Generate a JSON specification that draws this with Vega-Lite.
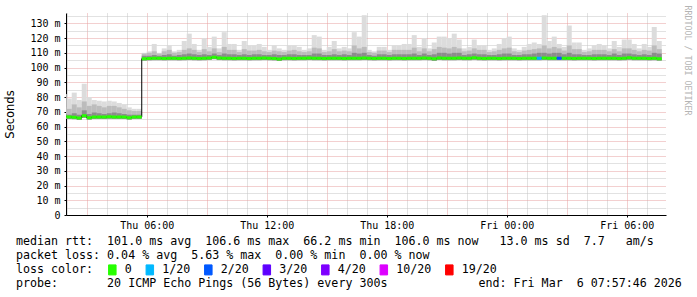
{
  "$schema": "https://vega.github.io/schema/vega-lite/v6.json",
  "autosize": "none",
  "width": 600,
  "height": 202,
  "padding": {"left": 66, "top": 13, "right": 31, "bottom": 82},
  "background": "white",
  "config": {"view": {"stroke": null}, "font": "DejaVu Sans Mono"},
  "title": {
    "text": [
      "median rtt:\u00a0\u00a0101.0 ms avg\u00a0\u00a0106.6 ms max\u00a0\u00a066.2 ms min\u00a0\u00a0106.0 ms now\u00a0\u00a0\u00a013.0 ms sd\u00a0\u00a07.7\u00a0\u00a0\u00a0am/s",
      "packet loss: 0.04 % avg\u00a0\u00a05.63 % max\u00a0\u00a00.00 % min\u00a0\u00a00.00 % now"
    ],
    "subtitle": "probe:\u00a0\u00a0\u00a0\u00a0\u00a0\u00a0\u00a020 ICMP Echo Pings (56 Bytes) every 300s\u00a0\u00a0\u00a0\u00a0\u00a0\u00a0\u00a0\u00a0\u00a0\u00a0\u00a0\u00a0\u00a0end: Fri Mar\u00a0\u00a06 07:57:46 2026",
    "orient": "bottom",
    "anchor": "start",
    "frame": "group",
    "dx": -50,
    "offset": -41,
    "font": "DejaVu Sans Mono",
    "fontSize": 11.65,
    "fontWeight": "normal",
    "color": "black",
    "lineHeight": 14,
    "baseline": "top",
    "subtitleFont": "DejaVu Sans Mono",
    "subtitleFontSize": 11.65,
    "subtitleFontWeight": "normal",
    "subtitleColor": "black",
    "subtitlePadding": 16
  },
  "data": {"values": [
    {"t":"2026-03-05T01:45","t2":"2026-03-05T02:00","lo":65.5,"med":66.8,"p1":68.5,"p2":73,"hi":82,"loss":"0"},
    {"t":"2026-03-05T02:00","t2":"2026-03-05T02:15","lo":65.2,"med":66.5,"p1":68,"p2":72,"hi":79,"loss":"0"},
    {"t":"2026-03-05T02:15","t2":"2026-03-05T02:30","lo":65.0,"med":66.3,"p1":69,"p2":75,"hi":83,"loss":"0"},
    {"t":"2026-03-05T02:30","t2":"2026-03-05T02:45","lo":64.5,"med":65.8,"p1":68,"p2":73,"hi":78,"loss":"0"},
    {"t":"2026-03-05T02:45","t2":"2026-03-05T03:00","lo":66.0,"med":67.3,"p1":71,"p2":77,"hi":89,"loss":"0"},
    {"t":"2026-03-05T03:00","t2":"2026-03-05T03:15","lo":64.7,"med":66.0,"p1":68.5,"p2":74,"hi":80,"loss":"0"},
    {"t":"2026-03-05T03:15","t2":"2026-03-05T03:30","lo":65.2,"med":66.5,"p1":69.5,"p2":75,"hi":78,"loss":"0"},
    {"t":"2026-03-05T03:30","t2":"2026-03-05T03:45","lo":65.2,"med":66.5,"p1":69,"p2":74,"hi":77.5,"loss":"0"},
    {"t":"2026-03-05T03:45","t2":"2026-03-05T04:00","lo":65.1,"med":66.4,"p1":68.5,"p2":73,"hi":77,"loss":"0"},
    {"t":"2026-03-05T04:00","t2":"2026-03-05T04:15","lo":65.3,"med":66.6,"p1":69,"p2":74,"hi":77.5,"loss":"0"},
    {"t":"2026-03-05T04:15","t2":"2026-03-05T04:30","lo":65.2,"med":66.5,"p1":69.5,"p2":74,"hi":77,"loss":"0"},
    {"t":"2026-03-05T04:30","t2":"2026-03-05T04:45","lo":65.2,"med":66.5,"p1":69,"p2":73,"hi":76,"loss":"0"},
    {"t":"2026-03-05T04:45","t2":"2026-03-05T05:00","lo":65.1,"med":66.4,"p1":68.5,"p2":72,"hi":75,"loss":"0"},
    {"t":"2026-03-05T05:00","t2":"2026-03-05T05:15","lo":64.7,"med":66.0,"p1":68,"p2":71,"hi":73,"loss":"0"},
    {"t":"2026-03-05T05:15","t2":"2026-03-05T05:30","lo":65.2,"med":66.5,"p1":68,"p2":70.5,"hi":72,"loss":"0"},
    {"t":"2026-03-05T05:30","t2":"2026-03-05T05:45","lo":65.2,"med":66.5,"p1":68,"p2":70.5,"hi":72,"loss":"0"},
    {"t":"2026-03-05T05:45","t2":"2026-03-05T06:00","lo":104.7,"med":106.0,"p1":108,"p2":109.5,"hi":110,"loss":"0"},
    {"t":"2026-03-05T06:00","t2":"2026-03-05T06:15","lo":104.9,"med":106.2,"p1":108,"p2":110,"hi":111,"loss":"0"},
    {"t":"2026-03-05T06:15","t2":"2026-03-05T06:30","lo":105.0,"med":106.3,"p1":108.5,"p2":111,"hi":116,"loss":"0"},
    {"t":"2026-03-05T06:30","t2":"2026-03-05T06:45","lo":105.0,"med":106.3,"p1":108,"p2":109.5,"hi":110,"loss":"0"},
    {"t":"2026-03-05T06:45","t2":"2026-03-05T07:00","lo":104.9,"med":106.2,"p1":108.5,"p2":111,"hi":113,"loss":"0"},
    {"t":"2026-03-05T07:00","t2":"2026-03-05T07:15","lo":105.0,"med":106.3,"p1":109,"p2":112,"hi":115,"loss":"0"},
    {"t":"2026-03-05T07:15","t2":"2026-03-05T07:30","lo":105.0,"med":106.3,"p1":108,"p2":110,"hi":111,"loss":"0"},
    {"t":"2026-03-05T07:30","t2":"2026-03-05T07:45","lo":104.9,"med":106.2,"p1":108.5,"p2":110.5,"hi":112,"loss":"0"},
    {"t":"2026-03-05T07:45","t2":"2026-03-05T08:00","lo":105.0,"med":106.3,"p1":109,"p2":112,"hi":118,"loss":"0"},
    {"t":"2026-03-05T08:00","t2":"2026-03-05T08:15","lo":105.1,"med":106.4,"p1":109.5,"p2":113,"hi":123,"loss":"0"},
    {"t":"2026-03-05T08:15","t2":"2026-03-05T08:30","lo":105.0,"med":106.3,"p1":109,"p2":112,"hi":116,"loss":"0"},
    {"t":"2026-03-05T08:30","t2":"2026-03-05T08:45","lo":104.9,"med":106.2,"p1":108.5,"p2":110.5,"hi":112,"loss":"0"},
    {"t":"2026-03-05T08:45","t2":"2026-03-05T09:00","lo":105.0,"med":106.3,"p1":109,"p2":112.5,"hi":120,"loss":"0"},
    {"t":"2026-03-05T09:00","t2":"2026-03-05T09:15","lo":105.2,"med":106.5,"p1":108.5,"p2":111,"hi":114,"loss":"0"},
    {"t":"2026-03-05T09:15","t2":"2026-03-05T09:30","lo":105.7,"med":107.0,"p1":109.5,"p2":113,"hi":121,"loss":"0"},
    {"t":"2026-03-05T09:30","t2":"2026-03-05T09:45","lo":105.1,"med":106.4,"p1":108.5,"p2":110.5,"hi":113,"loss":"0"},
    {"t":"2026-03-05T09:45","t2":"2026-03-05T10:00","lo":105.0,"med":106.3,"p1":109.5,"p2":114,"hi":124,"loss":"0"},
    {"t":"2026-03-05T10:00","t2":"2026-03-05T10:15","lo":105.0,"med":106.3,"p1":109,"p2":112,"hi":116,"loss":"0"},
    {"t":"2026-03-05T10:15","t2":"2026-03-05T10:30","lo":104.9,"med":106.2,"p1":109,"p2":112,"hi":116,"loss":"0"},
    {"t":"2026-03-05T10:30","t2":"2026-03-05T10:45","lo":105.0,"med":106.3,"p1":108.5,"p2":110.5,"hi":112,"loss":"0"},
    {"t":"2026-03-05T10:45","t2":"2026-03-05T11:00","lo":105.0,"med":106.3,"p1":109,"p2":112.5,"hi":118,"loss":"0"},
    {"t":"2026-03-05T11:00","t2":"2026-03-05T11:15","lo":104.9,"med":106.2,"p1":108.5,"p2":111.5,"hi":115,"loss":"0"},
    {"t":"2026-03-05T11:15","t2":"2026-03-05T11:30","lo":105.0,"med":106.3,"p1":109,"p2":111.5,"hi":115,"loss":"0"},
    {"t":"2026-03-05T11:30","t2":"2026-03-05T11:45","lo":105.0,"med":106.3,"p1":109,"p2":112,"hi":116,"loss":"0"},
    {"t":"2026-03-05T11:45","t2":"2026-03-05T12:00","lo":105.1,"med":106.4,"p1":108.5,"p2":111,"hi":114,"loss":"0"},
    {"t":"2026-03-05T12:00","t2":"2026-03-05T12:15","lo":105.0,"med":106.3,"p1":108.5,"p2":110.5,"hi":112,"loss":"0"},
    {"t":"2026-03-05T12:15","t2":"2026-03-05T12:30","lo":104.9,"med":106.2,"p1":109,"p2":111.5,"hi":115,"loss":"0"},
    {"t":"2026-03-05T12:30","t2":"2026-03-05T12:45","lo":104.5,"med":105.8,"p1":108.5,"p2":111,"hi":113,"loss":"0"},
    {"t":"2026-03-05T12:45","t2":"2026-03-05T13:00","lo":105.0,"med":106.3,"p1":108.5,"p2":110.5,"hi":112,"loss":"0"},
    {"t":"2026-03-05T13:00","t2":"2026-03-05T13:15","lo":105.0,"med":106.3,"p1":109,"p2":111.5,"hi":115,"loss":"0"},
    {"t":"2026-03-05T13:15","t2":"2026-03-05T13:30","lo":104.9,"med":106.2,"p1":109,"p2":112,"hi":115,"loss":"0"},
    {"t":"2026-03-05T13:30","t2":"2026-03-05T13:45","lo":105.0,"med":106.3,"p1":108.5,"p2":111,"hi":114,"loss":"0"},
    {"t":"2026-03-05T13:45","t2":"2026-03-05T14:00","lo":105.0,"med":106.3,"p1":108.5,"p2":110.5,"hi":112,"loss":"0"},
    {"t":"2026-03-05T14:00","t2":"2026-03-05T14:15","lo":105.1,"med":106.4,"p1":108.5,"p2":111,"hi":113,"loss":"0"},
    {"t":"2026-03-05T14:15","t2":"2026-03-05T14:30","lo":105.0,"med":106.3,"p1":109.5,"p2":113.5,"hi":122,"loss":"0"},
    {"t":"2026-03-05T14:30","t2":"2026-03-05T14:45","lo":105.0,"med":106.3,"p1":109.5,"p2":113,"hi":121,"loss":"0"},
    {"t":"2026-03-05T14:45","t2":"2026-03-05T15:00","lo":104.9,"med":106.2,"p1":108.5,"p2":110.5,"hi":112,"loss":"0"},
    {"t":"2026-03-05T15:00","t2":"2026-03-05T15:15","lo":105.0,"med":106.3,"p1":108.5,"p2":111,"hi":114,"loss":"0"},
    {"t":"2026-03-05T15:15","t2":"2026-03-05T15:30","lo":105.0,"med":106.3,"p1":109,"p2":112.5,"hi":118,"loss":"0"},
    {"t":"2026-03-05T15:30","t2":"2026-03-05T15:45","lo":105.0,"med":106.3,"p1":108.5,"p2":111,"hi":113,"loss":"0"},
    {"t":"2026-03-05T15:45","t2":"2026-03-05T16:00","lo":104.9,"med":106.2,"p1":109,"p2":111.5,"hi":114,"loss":"0"},
    {"t":"2026-03-05T16:00","t2":"2026-03-05T16:15","lo":105.0,"med":106.3,"p1":108.5,"p2":111,"hi":113,"loss":"0"},
    {"t":"2026-03-05T16:15","t2":"2026-03-05T16:30","lo":105.0,"med":106.3,"p1":110,"p2":115,"hi":124,"loss":"0"},
    {"t":"2026-03-05T16:30","t2":"2026-03-05T16:45","lo":105.0,"med":106.3,"p1":109.5,"p2":113,"hi":121,"loss":"0"},
    {"t":"2026-03-05T16:45","t2":"2026-03-05T17:00","lo":105.1,"med":106.4,"p1":110,"p2":114,"hi":135.5,"loss":"0"},
    {"t":"2026-03-05T17:00","t2":"2026-03-05T17:15","lo":105.0,"med":106.3,"p1":108.5,"p2":110.5,"hi":112,"loss":"0"},
    {"t":"2026-03-05T17:15","t2":"2026-03-05T17:30","lo":104.9,"med":106.2,"p1":108,"p2":110,"hi":111,"loss":"0"},
    {"t":"2026-03-05T17:30","t2":"2026-03-05T17:45","lo":105.0,"med":106.3,"p1":109,"p2":111.5,"hi":114,"loss":"0"},
    {"t":"2026-03-05T17:45","t2":"2026-03-05T18:00","lo":105.0,"med":106.3,"p1":109,"p2":111.5,"hi":114,"loss":"0"},
    {"t":"2026-03-05T18:00","t2":"2026-03-05T18:15","lo":104.9,"med":106.2,"p1":108.5,"p2":110.5,"hi":112,"loss":"0"},
    {"t":"2026-03-05T18:15","t2":"2026-03-05T18:30","lo":105.0,"med":106.3,"p1":109,"p2":112,"hi":115,"loss":"0"},
    {"t":"2026-03-05T18:30","t2":"2026-03-05T18:45","lo":105.0,"med":106.3,"p1":109,"p2":112,"hi":115,"loss":"0"},
    {"t":"2026-03-05T18:45","t2":"2026-03-05T19:00","lo":104.9,"med":106.2,"p1":109,"p2":112,"hi":116,"loss":"0"},
    {"t":"2026-03-05T19:00","t2":"2026-03-05T19:15","lo":105.0,"med":106.3,"p1":109,"p2":112,"hi":116,"loss":"0"},
    {"t":"2026-03-05T19:15","t2":"2026-03-05T19:30","lo":105.0,"med":106.3,"p1":109.5,"p2":113.5,"hi":122,"loss":"0"},
    {"t":"2026-03-05T19:30","t2":"2026-03-05T19:45","lo":105.0,"med":106.3,"p1":108.5,"p2":111,"hi":114,"loss":"0"},
    {"t":"2026-03-05T19:45","t2":"2026-03-05T20:00","lo":105.1,"med":106.4,"p1":109.5,"p2":113,"hi":120,"loss":"0"},
    {"t":"2026-03-05T20:00","t2":"2026-03-05T20:15","lo":105.0,"med":106.3,"p1":108.5,"p2":111,"hi":113,"loss":"0"},
    {"t":"2026-03-05T20:15","t2":"2026-03-05T20:30","lo":104.6,"med":105.9,"p1":109,"p2":112.5,"hi":117,"loss":"0"},
    {"t":"2026-03-05T20:30","t2":"2026-03-05T20:45","lo":105.2,"med":106.5,"p1":110,"p2":114,"hi":121,"loss":"0"},
    {"t":"2026-03-05T20:45","t2":"2026-03-05T21:00","lo":105.0,"med":106.3,"p1":110,"p2":113.5,"hi":121,"loss":"0"},
    {"t":"2026-03-05T21:00","t2":"2026-03-05T21:15","lo":105.0,"med":106.3,"p1":109.5,"p2":113,"hi":120,"loss":"0"},
    {"t":"2026-03-05T21:15","t2":"2026-03-05T21:30","lo":105.0,"med":106.3,"p1":110,"p2":114,"hi":123,"loss":"0"},
    {"t":"2026-03-05T21:30","t2":"2026-03-05T21:45","lo":105.1,"med":106.4,"p1":110,"p2":113,"hi":119,"loss":"0"},
    {"t":"2026-03-05T21:45","t2":"2026-03-05T22:00","lo":105.0,"med":106.3,"p1":108.5,"p2":111,"hi":113,"loss":"0"},
    {"t":"2026-03-05T22:00","t2":"2026-03-05T22:15","lo":105.0,"med":106.3,"p1":109,"p2":111.5,"hi":114,"loss":"0"},
    {"t":"2026-03-05T22:15","t2":"2026-03-05T22:30","lo":105.3,"med":106.6,"p1":109.5,"p2":113,"hi":119,"loss":"0"},
    {"t":"2026-03-05T22:30","t2":"2026-03-05T22:45","lo":105.0,"med":106.3,"p1":109,"p2":112,"hi":115,"loss":"0"},
    {"t":"2026-03-05T22:45","t2":"2026-03-05T23:00","lo":104.9,"med":106.2,"p1":109,"p2":112,"hi":115,"loss":"0"},
    {"t":"2026-03-05T23:00","t2":"2026-03-05T23:15","lo":105.0,"med":106.3,"p1":108.5,"p2":110.5,"hi":112,"loss":"0"},
    {"t":"2026-03-05T23:15","t2":"2026-03-05T23:30","lo":105.0,"med":106.3,"p1":108.5,"p2":111,"hi":113,"loss":"0"},
    {"t":"2026-03-05T23:30","t2":"2026-03-05T23:45","lo":104.9,"med":106.2,"p1":109,"p2":112,"hi":116,"loss":"0"},
    {"t":"2026-03-05T23:45","t2":"2026-03-06T00:00","lo":105.0,"med":106.3,"p1":109.5,"p2":113,"hi":120,"loss":"0"},
    {"t":"2026-03-06T00:00","t2":"2026-03-06T00:15","lo":105.0,"med":106.3,"p1":109.5,"p2":113.5,"hi":121,"loss":"0"},
    {"t":"2026-03-06T00:15","t2":"2026-03-06T00:30","lo":105.0,"med":106.3,"p1":108.5,"p2":111,"hi":113,"loss":"0"},
    {"t":"2026-03-06T00:30","t2":"2026-03-06T00:45","lo":104.9,"med":106.2,"p1":108.5,"p2":110.5,"hi":112,"loss":"0"},
    {"t":"2026-03-06T00:45","t2":"2026-03-06T01:00","lo":105.0,"med":106.3,"p1":109,"p2":111.5,"hi":114,"loss":"0"},
    {"t":"2026-03-06T01:00","t2":"2026-03-06T01:15","lo":105.0,"med":106.3,"p1":109,"p2":112,"hi":116,"loss":"0"},
    {"t":"2026-03-06T01:15","t2":"2026-03-06T01:30","lo":105.0,"med":106.3,"p1":109.5,"p2":112.5,"hi":117,"loss":"0"},
    {"t":"2026-03-06T01:30","t2":"2026-03-06T01:45","lo":105.0,"med":106.3,"p1":110,"p2":113,"hi":116,"loss":"1/20"},
    {"t":"2026-03-06T01:45","t2":"2026-03-06T02:00","lo":105.1,"med":106.4,"p1":110,"p2":115,"hi":135.5,"loss":"0"},
    {"t":"2026-03-06T02:00","t2":"2026-03-06T02:15","lo":105.0,"med":106.3,"p1":109.5,"p2":113,"hi":118,"loss":"0"},
    {"t":"2026-03-06T02:15","t2":"2026-03-06T02:30","lo":105.0,"med":106.3,"p1":110,"p2":114,"hi":121,"loss":"0"},
    {"t":"2026-03-06T02:30","t2":"2026-03-06T02:45","lo":105.0,"med":106.3,"p1":110,"p2":113,"hi":116,"loss":"2/20"},
    {"t":"2026-03-06T02:45","t2":"2026-03-06T03:00","lo":105.0,"med":106.3,"p1":109,"p2":111.5,"hi":114,"loss":"0"},
    {"t":"2026-03-06T03:00","t2":"2026-03-06T03:15","lo":105.0,"med":106.3,"p1":110,"p2":115,"hi":128.5,"loss":"0"},
    {"t":"2026-03-06T03:15","t2":"2026-03-06T03:30","lo":104.9,"med":106.2,"p1":109,"p2":112.5,"hi":117,"loss":"0"},
    {"t":"2026-03-06T03:30","t2":"2026-03-06T03:45","lo":105.0,"med":106.3,"p1":109,"p2":112.5,"hi":117,"loss":"0"},
    {"t":"2026-03-06T03:45","t2":"2026-03-06T04:00","lo":105.0,"med":106.3,"p1":108.5,"p2":110.5,"hi":112,"loss":"0"},
    {"t":"2026-03-06T04:00","t2":"2026-03-06T04:15","lo":105.0,"med":106.3,"p1":108.5,"p2":111,"hi":113,"loss":"0"},
    {"t":"2026-03-06T04:15","t2":"2026-03-06T04:30","lo":104.9,"med":106.2,"p1":109,"p2":112,"hi":115,"loss":"0"},
    {"t":"2026-03-06T04:30","t2":"2026-03-06T04:45","lo":105.0,"med":106.3,"p1":109,"p2":112,"hi":116,"loss":"0"},
    {"t":"2026-03-06T04:45","t2":"2026-03-06T05:00","lo":105.0,"med":106.3,"p1":109,"p2":112,"hi":115,"loss":"0"},
    {"t":"2026-03-06T05:00","t2":"2026-03-06T05:15","lo":105.0,"med":106.3,"p1":108.5,"p2":111,"hi":113,"loss":"0"},
    {"t":"2026-03-06T05:15","t2":"2026-03-06T05:30","lo":105.0,"med":106.3,"p1":109.5,"p2":112.5,"hi":118,"loss":"0"},
    {"t":"2026-03-06T05:30","t2":"2026-03-06T05:45","lo":104.9,"med":106.2,"p1":108.5,"p2":111,"hi":114,"loss":"0"},
    {"t":"2026-03-06T05:45","t2":"2026-03-06T06:00","lo":105.0,"med":106.3,"p1":109.5,"p2":113,"hi":119,"loss":"0"},
    {"t":"2026-03-06T06:00","t2":"2026-03-06T06:15","lo":105.3,"med":106.6,"p1":109.5,"p2":113,"hi":119,"loss":"0"},
    {"t":"2026-03-06T06:15","t2":"2026-03-06T06:30","lo":105.0,"med":106.3,"p1":109,"p2":112,"hi":116,"loss":"0"},
    {"t":"2026-03-06T06:30","t2":"2026-03-06T06:45","lo":105.0,"med":106.3,"p1":108.5,"p2":111,"hi":113,"loss":"0"},
    {"t":"2026-03-06T06:45","t2":"2026-03-06T07:00","lo":105.0,"med":106.3,"p1":109,"p2":112,"hi":116,"loss":"0"},
    {"t":"2026-03-06T07:00","t2":"2026-03-06T07:15","lo":104.9,"med":106.2,"p1":108.5,"p2":111.5,"hi":114,"loss":"0"},
    {"t":"2026-03-06T07:15","t2":"2026-03-06T07:30","lo":105.0,"med":106.3,"p1":110,"p2":115,"hi":127.5,"loss":"0"},
    {"t":"2026-03-06T07:30","t2":"2026-03-06T07:45","lo":104.7,"med":106.0,"p1":109.5,"p2":112.5,"hi":118,"loss":"0"}
  ]},
  "layer": [
    {
      "mark": {"type": "rect", "color": "#dcdcdc", "clip": true},
      "encoding": {
        "x": {"field": "t", "type": "temporal",
          "scale": {"domain": [{"year": 2026, "month": 3, "date": 5, "hours": 1, "minutes": 57, "seconds": 46}, {"year": 2026, "month": 3, "date": 6, "hours": 7, "minutes": 57, "seconds": 46}], "nice": false},
          "axis": {"orient": "bottom", "values": [
            {"year": 2026, "month": 3, "date": 5, "hours": 2}, {"year": 2026, "month": 3, "date": 5, "hours": 4}, {"year": 2026, "month": 3, "date": 5, "hours": 5},
            {"year": 2026, "month": 3, "date": 5, "hours": 7}, {"year": 2026, "month": 3, "date": 5, "hours": 8}, {"year": 2026, "month": 3, "date": 5, "hours": 10},
            {"year": 2026, "month": 3, "date": 5, "hours": 11}, {"year": 2026, "month": 3, "date": 5, "hours": 13}, {"year": 2026, "month": 3, "date": 5, "hours": 14},
            {"year": 2026, "month": 3, "date": 5, "hours": 16}, {"year": 2026, "month": 3, "date": 5, "hours": 17}, {"year": 2026, "month": 3, "date": 5, "hours": 19},
            {"year": 2026, "month": 3, "date": 5, "hours": 20}, {"year": 2026, "month": 3, "date": 5, "hours": 22}, {"year": 2026, "month": 3, "date": 5, "hours": 23},
            {"year": 2026, "month": 3, "date": 6, "hours": 1}, {"year": 2026, "month": 3, "date": 6, "hours": 2}, {"year": 2026, "month": 3, "date": 6, "hours": 4},
            {"year": 2026, "month": 3, "date": 6, "hours": 5}, {"year": 2026, "month": 3, "date": 6, "hours": 7}],
            "grid": true, "gridColor": "#c4c4c4", "gridDash": [1, 1], "labels": false, "ticks": false, "domain": false, "title": null}},
        "x2": {"field": "t2"},
        "y": {"field": "lo", "type": "quantitative",
          "scale": {"domain": [0, 137], "nice": false, "zero": true},
          "axis": {"orient": "left", "values": [5, 15, 25, 35, 45, 55, 65, 75, 85, 95, 105, 115, 125, 135], "grid": true, "gridColor": "#c4c4c4", "gridDash": [1, 1], "labels": false, "ticks": false, "domain": false, "title": null}},
        "y2": {"field": "hi"}
      }
    },
    {
      "mark": {"type": "rect", "color": "#bcbcbc", "clip": true},
      "encoding": {
        "x": {"field": "t", "type": "temporal",
          "axis": {"orient": "bottom", "values": [
            {"year": 2026, "month": 3, "date": 5, "hours": 3}, {"year": 2026, "month": 3, "date": 5, "hours": 6}, {"year": 2026, "month": 3, "date": 5, "hours": 9},
            {"year": 2026, "month": 3, "date": 5, "hours": 12}, {"year": 2026, "month": 3, "date": 5, "hours": 15}, {"year": 2026, "month": 3, "date": 5, "hours": 18},
            {"year": 2026, "month": 3, "date": 5, "hours": 21}, {"year": 2026, "month": 3, "date": 6, "hours": 0}, {"year": 2026, "month": 3, "date": 6, "hours": 3},
            {"year": 2026, "month": 3, "date": 6, "hours": 6}],
            "grid": true, "gridColor": "#e6a0a0", "gridDash": [1, 1], "labels": false, "ticks": false, "domain": false, "title": null}},
        "x2": {"field": "t2"},
        "y": {"field": "lo", "type": "quantitative",
          "axis": {"orient": "left", "values": [0, 10, 20, 30, 40, 50, 60, 70, 80, 90, 100, 110, 120, 130], "grid": true, "gridColor": "#e6a0a0", "gridDash": [1, 1],
            "labelExpr": "datum.value == 0 ? '0' : datum.value + ' m'", "labelFont": "DejaVu Sans Mono", "labelFontSize": 10, "labelColor": "black", "labelPadding": 4,
            "ticks": true, "tickSize": 2, "tickColor": "black", "domain": true, "domainColor": "black",
            "title": "Seconds", "titleFont": "DejaVu Sans", "titleFontSize": 11.5, "titleFontWeight": "normal", "titleColor": "black", "titleX": -56, "titleY": 101, "titleAngle": 270, "titleAlign": "center", "titleBaseline": "middle"}},
        "y2": {"field": "p2"}
      }
    },
    {
      "mark": {"type": "rect", "color": "#8c8c8c", "clip": true},
      "encoding": {
        "x": {"field": "t", "type": "temporal",
          "axis": {"orient": "bottom", "values": [
            {"year": 2026, "month": 3, "date": 5, "hours": 6}, {"year": 2026, "month": 3, "date": 5, "hours": 12}, {"year": 2026, "month": 3, "date": 5, "hours": 18},
            {"year": 2026, "month": 3, "date": 6, "hours": 0}, {"year": 2026, "month": 3, "date": 6, "hours": 6}],
            "format": "%a %H:%M", "labelFont": "DejaVu Sans Mono", "labelFontSize": 10, "labelColor": "black", "labelFlush": false, "labelPadding": 3, "grid": false, "ticks": true, "tickSize": 2, "tickColor": "black", "domain": true, "domainColor": "black", "title": null}},
        "x2": {"field": "t2"},
        "y": {"field": "lo", "type": "quantitative",
          "axis": {"orient": "right", "labels": false, "ticks": false, "domain": false, "grid": false,
            "title": "RRDTOOL / TOBI OETIKER", "titleFont": "DejaVu Sans Mono", "titleFontSize": 8.3, "titleFontWeight": "normal", "titleColor": "#b4b4b4", "titleAngle": 90, "titleX": 20, "titleY": -8, "titleAlign": "left", "titleBaseline": "middle"}},
        "y2": {"field": "p1"}
      }
    },
    {
      "mark": {"type": "line", "color": "black", "strokeWidth": 1, "interpolate": "step-after", "clip": true},
      "encoding": {
        "x": {"field": "t", "type": "temporal", "axis": null},
        "y": {"field": "med", "type": "quantitative", "axis": null}
      }
    },
    {
      "mark": {"type": "rect", "strokeWidth": 3, "clip": true},
      "encoding": {
        "x": {"field": "t", "type": "temporal", "axis": null},
        "x2": {"field": "t2"},
        "y": {"field": "med", "type": "quantitative", "axis": null},
        "y2": {"field": "med"},
        "fill": {"field": "loss", "type": "nominal",
          "scale": {"domain": ["0", "1/20", "2/20", "3/20", "4/20", "10/20", "19/20"], "range": ["#26ff00", "#00b8ff", "#0059ff", "#5e00ff", "#7e00ff", "#dd00ff", "#ff0000"]},
          "legend": {"orient": "none", "legendX": -50, "legendY": 251, "direction": "horizontal", "title": "loss color:", "titleOrient": "left",
            "titleFont": "DejaVu Sans Mono", "titleFontSize": 11.65, "titleFontWeight": "normal", "titleColor": "black", "titlePadding": 12.5,
            "labelFont": "DejaVu Sans Mono", "labelFontSize": 11.65, "labelColor": "black", "labelOffset": 6.5,
            "symbolType": "M-0.75,-1H0.75V1H-0.75Z", "symbolSize": 100, "symbolStrokeColor": "black", "symbolStrokeWidth": 1, "symbolOpacity": 1,
            "columnPadding": 11.5, "padding": 0}},
        "stroke": {"field": "loss", "type": "nominal",
          "scale": {"domain": ["0", "1/20", "2/20", "3/20", "4/20", "10/20", "19/20"], "range": ["#26ff00", "#00b8ff", "#0059ff", "#5e00ff", "#7e00ff", "#dd00ff", "#ff0000"]},
          "legend": null}
      }
    }
  ],
  "resolve": {"axis": {"x": "independent", "y": "independent"}}
}
